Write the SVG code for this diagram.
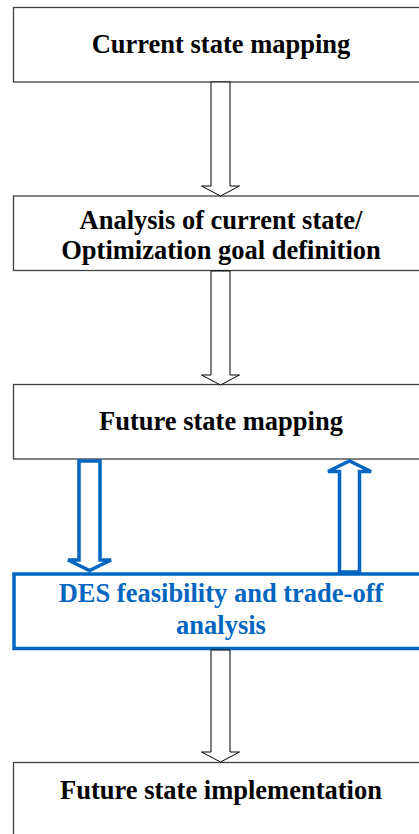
<svg xmlns="http://www.w3.org/2000/svg" width="419" height="834" viewBox="0 0 419 834">
<style>
.box{fill:#fff;stroke:#404040;stroke-width:1.3}
.bbox{fill:#fff;stroke:#0066c0;stroke-width:3.5}
.t{font-family:"Liberation Serif","Times New Roman",serif;font-weight:bold;font-size:26.5px;fill:#000;text-anchor:middle}
.bt{fill:#0066c0}
.arr{fill:#fff;stroke:#000;stroke-width:1}
.barr{fill:#fff;stroke:#0066c0;stroke-width:3.5;stroke-linejoin:miter}
</style>
<rect width="419" height="834" fill="#fff"/>
<g id="n1"><rect class="box" x="13.5" y="7.5" width="415" height="74.5"/><text class="t" x="221" y="52.5">Current state mapping</text></g>
<g id="n2"><rect class="box" x="13.5" y="196" width="415" height="74.5"/><text class="t" x="221" y="229">Analysis of current state/</text><text class="t" x="221" y="258.5">Optimization goal definition</text></g>
<g id="n3"><rect class="box" x="13.5" y="384.5" width="415" height="74.5"/><text class="t" x="221" y="430">Future state mapping</text></g>
<g id="n4"><rect class="bbox" x="14" y="574" width="415" height="74.5"/><text class="t bt" x="221" y="602">DES feasibility and trade-off</text><text class="t bt" x="221" y="634">analysis</text></g>
<g id="n5"><rect class="box" x="13.5" y="762.5" width="415" height="80"/><text class="t" x="221" y="799">Future state implementation</text></g>
<g id="connectors">
<polygon class="arr" points="211,82 230,82 230,186 239.5,186 220.5,196 201.5,186 211,186"/>
<polygon class="arr" points="211,271 230,271 230,375 239.5,375 220.5,385 201.5,375 211,375"/>
<polygon class="arr" points="211,650 230,650 230,752 239.5,752 220.5,762 201.5,752 211,752"/>
<polygon class="barr" points="79,461 100,461 100,560 111,560 89.5,570.5 68,560 79,560"/>
<polygon class="barr" points="339.5,572 359.5,572 359.5,471.5 371,471.5 349.5,461 328,471.5 339.5,471.5"/>
</g>
</svg>
